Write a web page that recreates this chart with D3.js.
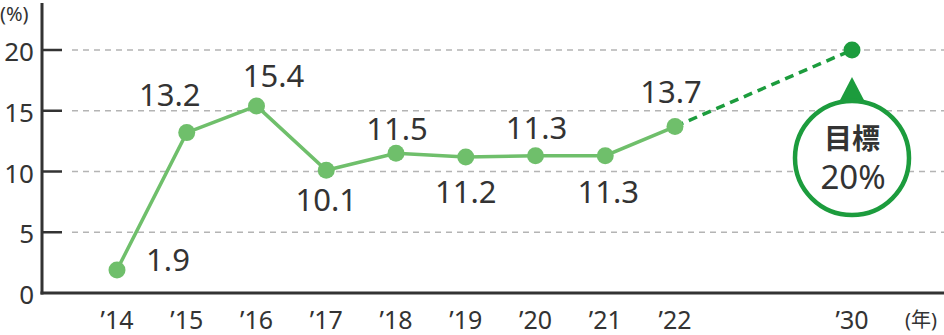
<!DOCTYPE html>
<html>
<head>
<meta charset="utf-8">
<style>
body { margin:0; background:#fff; }
text { font-family: "Noto Sans", "Noto Sans CJK JP", sans-serif; fill:#333; }
</style>
</head>
<body>
<svg id="chart" width="944" height="335"></svg>
<script src="https://cdnjs.cloudflare.com/ajax/libs/d3/7.8.5/d3.min.js"></script>
<script>
// data
var years = [2014, 2015, 2016, 2017, 2018, 2019, 2020, 2021, 2022];
var values = [1.9, 13.2, 15.4, 10.1, 11.5, 11.2, 11.3, 11.3, 13.7];
var yearLabels = ["’14", "’15", "’16", "’17", "’18", "’19", "’20", "’21", "’22", "’30"];
var targetYear = 2030;
var targetValue = 20;
var yTicks = [0, 5, 10, 15, 20];

// label offsets from each point (layout only)
var labelOffset = [[51, 1], [-17, -27], [17, -19], [0, 41], [1, -13], [0, 46], [1, -17], [3, 47], [-4, -24]];

var svg = d3.select("#chart");

var x = d3.scaleLinear().domain([2014, 2022, 2030]).range([117, 675, 852]);
var y = d3.scaleLinear().domain([0, 20]).range([293, 50]);

var axisX = 42;
var green = "#6fbf6b";
var dark = "#1c9c3d";

// grid lines
svg.append("g").selectAll("line")
  .data(yTicks.filter(function(d){ return d > 0; }))
  .enter().append("line")
  .attr("x1", 72).attr("x2", 944)
  .attr("y1", function(d){ return y(d); })
  .attr("y2", function(d){ return y(d); })
  .attr("stroke", "#b4b4b4")
  .attr("stroke-width", 1.3)
  .attr("stroke-dasharray", "6,5");

// y ticks
svg.append("g").selectAll("line")
  .data(yTicks.filter(function(d){ return d > 0; }))
  .enter().append("line")
  .attr("x1", axisX).attr("x2", axisX + 20)
  .attr("y1", function(d){ return y(d); })
  .attr("y2", function(d){ return y(d); })
  .attr("stroke", "#333").attr("stroke-width", 2.5);

svg.append("g").selectAll("text")
  .data(yTicks)
  .enter().append("text")
  .attr("x", 34)
  .attr("y", function(d){ return y(d) + 11; })
  .attr("text-anchor", "end")
  .attr("font-size", 26)
  .text(function(d){ return d; });

svg.append("text").attr("x", 0).attr("y", 21).attr("font-size", 20).text("(%)");

// axes
svg.append("line").attr("x1", axisX).attr("x2", axisX).attr("y1", 3).attr("y2", y(0) + 1.5)
  .attr("stroke", "#333").attr("stroke-width", 3);
svg.append("line").attr("x1", axisX - 1.5).attr("x2", 944).attr("y1", y(0)).attr("y2", y(0))
  .attr("stroke", "#333").attr("stroke-width", 3);

// x labels
var allYears = years.concat([targetYear]);
svg.append("g").selectAll("text")
  .data(allYears)
  .enter().append("text")
  .attr("x", function(d){ return x(d); })
  .attr("y", 329)
  .attr("text-anchor", "middle")
  .attr("font-size", 25)
  .text(function(d, i){ return yearLabels[i]; });
svg.append("text").attr("x", 921).attr("y", 327).attr("text-anchor", "middle")
  .attr("font-size", 20).text("(年)");

// target dashed line
var lastI = years.length - 1;
svg.append("line")
  .attr("x1", x(years[lastI])).attr("y1", y(values[lastI]))
  .attr("x2", x(targetYear)).attr("y2", y(targetValue))
  .attr("stroke", dark).attr("stroke-width", 3.5)
  .attr("stroke-dasharray", "9,6");

// actual line
var line = d3.line()
  .x(function(d, i){ return x(years[i]); })
  .y(function(d){ return y(d); });
svg.append("path").datum(values)
  .attr("d", line)
  .attr("fill", "none")
  .attr("stroke", green)
  .attr("stroke-width", 3.5);

svg.append("g").selectAll("circle")
  .data(values)
  .enter().append("circle")
  .attr("cx", function(d, i){ return x(years[i]); })
  .attr("cy", function(d){ return y(d); })
  .attr("r", 8.5)
  .attr("fill", green);

svg.append("circle")
  .attr("cx", x(targetYear)).attr("cy", y(targetValue))
  .attr("r", 8.5).attr("fill", dark);

// value labels
svg.append("g").selectAll("text")
  .data(values)
  .enter().append("text")
  .attr("x", function(d, i){ return x(years[i]) + labelOffset[i][0]; })
  .attr("y", function(d, i){ return y(d) + labelOffset[i][1]; })
  .attr("text-anchor", "middle")
  .attr("font-size", 31)
  .text(function(d){ return d.toFixed(1); });

// target badge
var bx = x(targetYear), by = 158;
svg.append("path")
  .attr("d", "M" + bx + ",77 L" + (bx - 13) + ",102 L" + (bx + 13) + ",102 Z")
  .attr("fill", dark);
svg.append("circle").attr("cx", bx).attr("cy", by).attr("r", 57)
  .attr("fill", "#fff").attr("stroke", dark).attr("stroke-width", 4.5);
svg.append("text").attr("x", bx).attr("y", 149).attr("text-anchor", "middle")
  .attr("font-size", 28).attr("font-weight", "bold").text("目標");
svg.append("text").attr("x", bx + 1).attr("y", 189).attr("text-anchor", "middle")
  .attr("font-size", 33).text(targetValue + "%");
</script>
</body>
</html>
